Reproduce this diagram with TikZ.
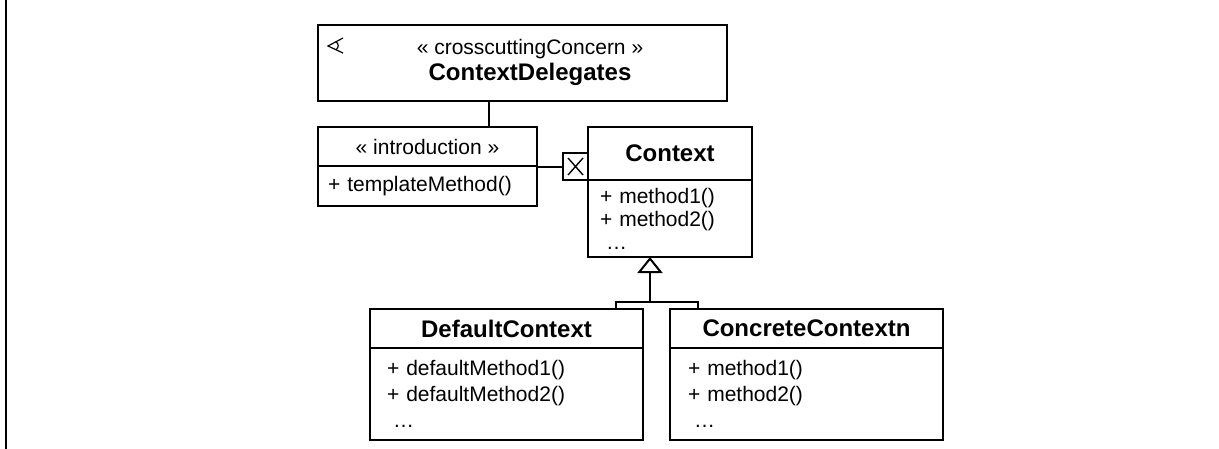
\documentclass[tikz,border=0pt]{standalone}
\usepackage{fontspec}
\setmainfont{Liberation Sans}
\usetikzlibrary{arrows.meta,positioning,calc}
\tikzset{
  umlbox/.style={draw,line width=1pt,inner sep=0pt,outer sep=0pt,anchor=north west},
  classhead/.style={umlbox,font=\fontsize{12}{14}\selectfont\bfseries,minimum width=#1,minimum height=19.5pt},
  classbody/.style={umlbox,align=left,font=\fontsize{10.5}{13}\selectfont,inner ysep=0pt},
  link/.style={line width=1pt}
}

\begin{document}
\begin{tikzpicture}[x=0.5pt,y=-0.5pt]
  \useasboundingbox (0,0) rectangle (1219,449);
  \draw[link] (6,0) -- (6,449);
  % aspect
  \node[umlbox,minimum width=204.5pt,minimum height=38pt] (delegates) at (318,25) {};
  \node[align=center,font=\fontsize{10.5}{13}\selectfont] (delegatesName) at ([xshift=3.75pt,yshift=0.5pt]delegates.center)
    {« crosscuttingConcern »\\{\fontsize{12}{13}\selectfont\bfseries ContextDelegates}};
  \draw[line width=0.6pt] (343,38) -- (328,46) -- (343,53);
  \draw[line width=0.6pt] (336,41.7) .. controls (339,44) and (339,47.5) .. (336,49.7);
  % introduction
  \node[classhead=109.5pt,font=\fontsize{10.5}{13}\selectfont] (introHead) at (318,127) {« introduction »};
  \node[classbody,inner xsep=5pt,text width=99.5pt,minimum height=20pt] (introBody) at (introHead.south west) {+ templateMethod()};
  % context
  \node[classhead=82pt,minimum height=26.5pt] (ctxHead) at (588,127) {Context};
  \node[classbody,inner xsep=6pt,text width=70pt,minimum height=38.5pt,font=\fontsize{10.5}{11.5}\selectfont] (ctxBody) at (ctxHead.south west)
    {+ method1()\\+ method2()\\\hspace*{3pt}…};
  \node[umlbox,anchor=south east,minimum width=12.5pt,minimum height=13.5pt] (xbox) at (ctxHead.south west) {};
  \draw[line width=0.7pt] ([shift={(2.5pt,-2.5pt)}]xbox.north west) -- ([shift={(-2.5pt,2.5pt)}]xbox.south east);
  \draw[line width=0.7pt] ([shift={(-2.5pt,-2.5pt)}]xbox.north east) -- ([shift={(2.5pt,2.5pt)}]xbox.south west);
  % subclasses
  \node[classhead=136.5pt] (defHead) at (370,309) {DefaultContext};
  \node[classbody,inner xsep=8.5pt,text width=119.5pt,minimum height=46pt] (defBody) at (defHead.south west)
    {+ defaultMethod1()\\+ defaultMethod2()\\\hspace*{3pt}…};
  \node[classhead=136.5pt] (conHead) at (670,309) {ConcreteContextn};
  \node[classbody,inner xsep=9pt,text width=118.5pt,minimum height=46pt] (conBody) at (conHead.south west)
    {+ method1()\\+ method2()\\\hspace*{3pt}…};
  % connectors
  \coordinate (joint) at (489,0);
  \coordinate (fork) at (650,302);
  \draw[link] (delegates.south -| joint) -- (introHead.north -| joint);
  \draw[link] (xbox.west) -- (xbox.west -| introHead.east);
  \draw[link,-{Triangle[open,length=8pt,width=12.5pt]}] (fork) -- (fork |- ctxBody.south);
  \draw[link] ([xshift=-13.5pt]defHead.north east) |- (fork) -| ([xshift=14pt]conHead.north west);
\end{tikzpicture}
\end{document}
